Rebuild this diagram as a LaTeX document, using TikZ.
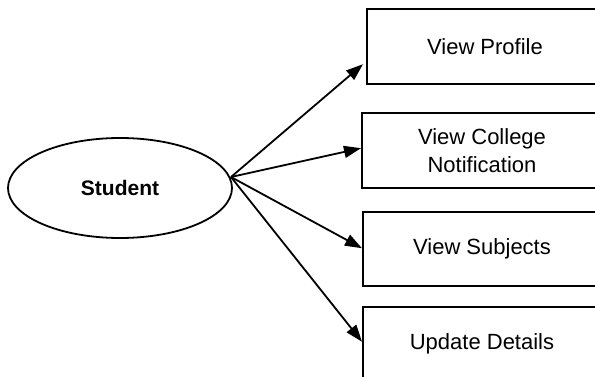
\documentclass[tikz,border=0pt]{standalone}
\usepackage{fontspec}
\setmainfont{Liberation Sans}
\usetikzlibrary{arrows.meta,shapes.geometric,calc}
\begin{document}
\begin{tikzpicture}[x=1pt,y=-1pt,
  usebox/.style={draw,line width=2pt,rectangle,inner sep=0pt,font=\fontsize{22}{28}\selectfont,align=center},
  actor/.style={draw,line width=1.8pt,ellipse,inner sep=0pt,minimum width=224pt,minimum height=100pt,font=\bfseries\fontsize{21}{24}\selectfont},
  arr/.style={line width=1.8pt,-{Triangle[length=17pt,width=12pt]}}]
\useasboundingbox (0,0) rectangle (595,377);
\begin{scope}
\clip (0,0) rectangle (595,377);
\node[actor] (s) at (120,188) {Student};
\coordinate (o) at (231,177);
\node[usebox,minimum width=236pt,minimum height=75pt] (b1) at (485,46.5) {View Profile};
\node[usebox,minimum width=240pt,minimum height=75pt] (b2) at (482,150.5) {View College\\Notification};
\node[usebox,minimum width=238pt,minimum height=74pt] (b3) at (482,249) {View Subjects};
\node[usebox,minimum width=238pt,minimum height=74pt] (b4) at (482,344) {Update Details};
\draw[arr] (o) -- ($(b1.north west)!0.73!(b1.south west)+(-3,0)$);
\draw[arr] (o) -- ($(b2.north west)!0.47!(b2.south west)$);
\draw[arr] (o) -- ($(b3.north west)!0.49!(b3.south west)$);
\draw[arr] (o) -- ($(b4.north west)!0.47!(b4.south west)$);
\end{scope}
\end{tikzpicture}
\end{document}
